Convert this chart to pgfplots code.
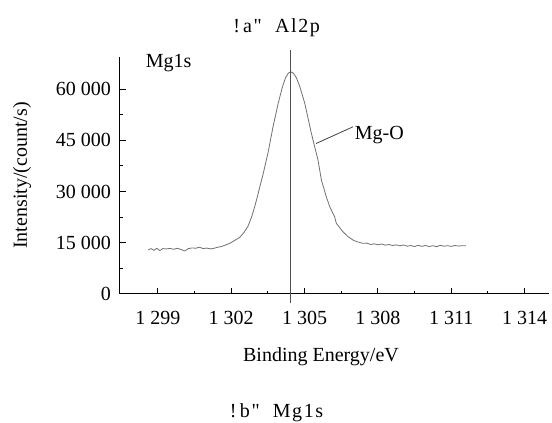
\documentclass[border=0pt]{standalone}
\usepackage{pgfplots}
\pgfplotsset{compat=1.18}
\usepackage{fontspec}
\setmainfont{Liberation Serif}
\newfontfamily\capfont{Liberation Serif}[LetterSpace=8]
\newcommand\fsz{\fontsize{20}{24}\selectfont}
\definecolor{curve}{HTML}{707070}
\definecolor{vline}{HTML}{505050}

\begin{document}
\begin{tikzpicture}
\begin{axis}[
  at={(0,0)}, anchor=south west,
  scale only axis, width=429pt, height=237.3pt,
  xmin=1297.45, xmax=1315, ymin=0, ymax=69500,
  axis lines*=left,
  axis line style={black, line width=1pt},
  clip=false,
  scaled y ticks=false,
  xtick={1299,1302,1305,1308,1311,1314},
  xticklabels={{1 299},{1 302},{1 305},{1 308},{1 311},{1 314}},
  ytick={0,15000,30000,45000,60000},
  yticklabels={0,{15 000},{30 000},{45 000},{60 000}},
  minor x tick num=1, minor y tick num=1,
  tick align=inside,
  major tick length=6pt, minor tick length=3pt,
  tick style={black, line width=1pt},
  xticklabel style={font=\fsz, anchor=north, inner sep=0pt, yshift=-17pt},
  yticklabel style={font=\fsz, anchor=east, inner sep=0pt, xshift=-9pt},
  every axis x label/.style={at={([yshift=-63pt]axis description cs:0.4685,0)}, anchor=center, font=\fsz},
  every axis y label/.style={at={([xshift=-98pt]axis description cs:0,0.5)}, anchor=center, rotate=90, font=\fsz},
  xlabel={Binding Energy/eV},
  ylabel={Intensity/(count/s)},
]
% Mg1s spectrum
\addplot[curve, line width=0.8pt, mark=none] coordinates {
(1298.60,12900) (1298.72,13300) (1298.84,12800) (1298.96,13400) (1299.08,12700)
(1299.20,13300) (1299.35,13200) (1299.50,13350) (1299.65,13100) (1299.80,13400)
(1299.95,13000) (1300.10,12600) (1300.25,13300) (1300.40,13500) (1300.55,13400)
(1300.70,13700) (1300.85,13300) (1301.00,13450) (1301.15,13200) (1301.30,13400)
(1301.45,13700) (1301.60,13900) (1301.75,14300) (1301.94,14840) (1302.10,15500)
(1302.35,16600) (1302.52,18000) (1302.69,19900) (1302.83,22500) (1302.96,25550)
(1303.07,28500) (1303.17,31400) (1303.30,35000) (1303.51,41500) (1303.71,48960)
(1303.92,55810) (1304.10,60800) (1304.22,63300) (1304.34,64700) (1304.44,65060)
(1304.54,64700) (1304.66,63400) (1304.80,60900) (1305.01,55810)
(1305.28,47030) (1305.55,39220) (1305.69,33360) (1305.89,28480) (1306.03,25550)
(1306.23,22620) (1306.30,20690) (1306.57,18230) (1306.78,16800) (1306.98,15800)
(1307.15,15300) (1307.39,14840) (1307.55,14900) (1307.70,14500) (1307.85,14700)
(1308.00,14400) (1308.15,14650) (1308.30,14300) (1308.45,14500) (1308.60,14200)
(1308.75,14400) (1308.90,14100) (1309.05,14350) (1309.20,14000) (1309.35,14200)
(1309.50,13900) (1309.65,14250) (1309.80,13950) (1309.95,14200) (1310.10,13900)
(1310.25,14150) (1310.40,13850) (1310.55,14250) (1310.70,14000) (1310.85,14150)
(1311.00,13950) (1311.15,14200) (1311.30,14050) (1311.45,14150) (1311.60,14100)
};
% peak position line
\addplot[vline, line width=1pt, mark=none] coordinates {(1304.44,-2650) (1304.44,71400)};
% label leader
\addplot[black!75, line width=0.8pt, mark=none] coordinates {(1305.47,44070) (1306.98,48960)};
\node[font=\fsz, anchor=west, inner sep=0pt] at (axis cs:1307.05,46600) {Mg-O};
\node[font=\fsz, anchor=west, inner sep=0pt] at (rel axis cs:0.06,0.973) {Mg1s};
\node[font=\fsz\capfont, anchor=center] at ([yshift=29pt]rel axis cs:0.365,1) {!\,a"\ \ Al2p};
\node[font=\fsz\capfont, anchor=center] at ([yshift=-119pt]rel axis cs:0.365,0) {!\,b"\ \ Mg1s};
\end{axis}
\pgfresetboundingbox
\path[use as bounding box] (-120pt,-129pt) rectangle (432pt,294pt);
\end{tikzpicture}
\end{document}
